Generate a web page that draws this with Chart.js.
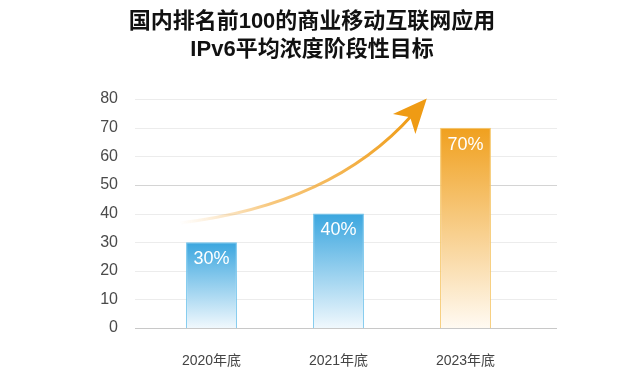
<!DOCTYPE html>
<html>
<head>
<meta charset="utf-8">
<script src="https://cdn.jsdelivr.net/npm/chart.js@4.4.0/dist/chart.umd.min.js"></script>
<style>
  html, body { margin: 0; padding: 0; background: #fff; }
  #wrap { width: 624px; height: 384px; position: relative; }
</style>
</head>
<body>
<div id="wrap"><canvas id="ipv6Chart"></canvas></div>
<script>
// chart data
const titleLines = ['国内排名前100的商业移动互联网应用', 'IPv6平均浓度阶段性目标'];
const categories = ['2020年底', '2021年底', '2023年底'];
const targetValues = [30, 40, 70];
const valueLabels = ['30%', '40%', '70%'];
const yTicks = [0, 10, 20, 30, 40, 50, 60, 70, 80];
// trend arrow, in axis units (category index, value)
const trendFrom = [-0.25, 36.7];
const trendBend = [0.95, 43];
const trendTo = [1.58, 74.4];

const FONT = '"Liberation Sans", "Noto Sans CJK SC", sans-serif';
const barTops = ['rgb(58,166,223)', 'rgb(58,166,223)', 'rgb(240,160,30)'];
const barBottoms = ['rgb(240,248,253)', 'rgb(240,248,253)', 'rgb(255,250,242)'];
const barBorders = ['#6cc2ec', '#6cc2ec', '#f6c565'];

function barFill(ctx) {
    const chart = ctx.chart;
    const area = chart.chartArea;
    if (!area) return barTops[ctx.dataIndex];
    const top = chart.scales.y.getPixelForValue(targetValues[ctx.dataIndex]);
    const g = chart.ctx.createLinearGradient(0, top, 0, area.bottom);
    g.addColorStop(0, barTops[ctx.dataIndex]);
    g.addColorStop(1, barBottoms[ctx.dataIndex]);
    return g;
}

// title centred on the whole canvas
const pageTitle = {
    id: 'pageTitle',
    afterDraw(chart) {
        const { ctx, width } = chart;
        ctx.save();
        ctx.fillStyle = '#111';
        ctx.font = 'bold 22px ' + FONT;
        ctx.textAlign = 'center';
        ctx.textBaseline = 'middle';
        titleLines.forEach((t, i) => ctx.fillText(t, width / 2, 22 + i * 28));
        ctx.restore();
    }
};

// horizontal grid lines that run wider than the bars' area
const wideGrid = {
    id: 'wideGrid',
    beforeDatasetsDraw(chart) {
        const { ctx, chartArea, scales } = chart;
        ctx.save();
        yTicks.forEach(v => {
            const y = Math.round(scales.y.getPixelForValue(v)) + 0.5;
            ctx.strokeStyle = v === 0 ? '#c8c8c8' : (v === 50 ? '#d4d4d4' : '#ececec');
            ctx.lineWidth = 1;
            ctx.beginPath();
            ctx.moveTo(chartArea.left - 13, y);
            ctx.lineTo(chartArea.right + 28, y);
            ctx.stroke();
        });
        ctx.restore();
    }
};

// value labels inside the bars
const barLabels = {
    id: 'barLabels',
    afterDatasetsDraw(chart) {
        const { ctx } = chart;
        const meta = chart.getDatasetMeta(0);
        ctx.save();
        ctx.fillStyle = '#ffffff';
        ctx.font = '18px ' + FONT;
        ctx.textAlign = 'center';
        ctx.textBaseline = 'middle';
        meta.data.forEach((bar, i) => {
            ctx.fillText(valueLabels[i], bar.x, bar.y + 17);
        });
        ctx.restore();
    }
};

// rising trend arrow
const trendArrow = {
    id: 'trendArrow',
    afterDatasetsDraw(chart) {
        const { ctx, scales } = chart;
        const px = p => [scales.x.getPixelForValue(p[0]), scales.y.getPixelForValue(p[1])];
        const a = px(trendFrom), c = px(trendBend), b = px(trendTo);
        ctx.save();
        const g = ctx.createLinearGradient(a[0], a[1], b[0], b[1]);
        g.addColorStop(0, 'rgba(246,190,110,0)');
        g.addColorStop(0.35, 'rgba(244,176,70,0.7)');
        g.addColorStop(1, 'rgb(239,155,20)');
        ctx.strokeStyle = g;
        ctx.lineWidth = 3;
        ctx.lineCap = 'round';
        ctx.beginPath();
        ctx.moveTo(a[0], a[1]);
        ctx.quadraticCurveTo(c[0], c[1], b[0], b[1]);
        ctx.stroke();
        // head
        const ang = Math.atan2(b[1] - c[1], b[0] - c[0]);
        const len = 34, half = 15;
        const tip = [b[0] + Math.cos(ang) * 22, b[1] + Math.sin(ang) * 22];
        const base = [tip[0] - Math.cos(ang) * len, tip[1] - Math.sin(ang) * len];
        const nx = -Math.sin(ang), ny = Math.cos(ang);
        ctx.fillStyle = 'rgb(239,155,20)';
        ctx.beginPath();
        ctx.moveTo(tip[0], tip[1]);
        ctx.lineTo(base[0] + nx * half, base[1] + ny * half);
        ctx.lineTo(base[0] + Math.cos(ang) * 9, base[1] + Math.sin(ang) * 9);
        ctx.lineTo(base[0] - nx * half, base[1] - ny * half);
        ctx.closePath();
        ctx.fill();
        ctx.restore();
    }
};

new Chart(document.getElementById('ipv6Chart'), {
    type: 'bar',
    data: {
        labels: categories,
        datasets: [{
            data: targetValues,
            backgroundColor: barFill,
            borderColor: barBorders,
            borderWidth: 1,
            borderSkipped: 'bottom',
            categoryPercentage: 1,
            barPercentage: 0.4
        }]
    },
    options: {
        responsive: true,
        maintainAspectRatio: false,
        animation: false,
        layout: { padding: { left: 0, right: 95, top: 99, bottom: 0 } },
        plugins: {
            legend: { display: false },
            tooltip: { enabled: false },
            title: { display: false }
        },
        scales: {
            x: {
                grid: { display: false },
                border: { display: false },
                ticks: { color: '#444', font: { family: FONT, size: 14 }, padding: 17 },
                afterFit: s => { s.height = 56; }
            },
            y: {
                min: 0,
                max: 80,
                grid: { display: false },
                border: { display: false },
                ticks: { stepSize: 10, color: '#4a4a4a', font: { family: FONT, size: 16 }, padding: 22 },
                afterFit: s => { s.width = 148; }
            }
        }
    },
    plugins: [wideGrid, barLabels, trendArrow, pageTitle]
});
</script>
</body>
</html>
